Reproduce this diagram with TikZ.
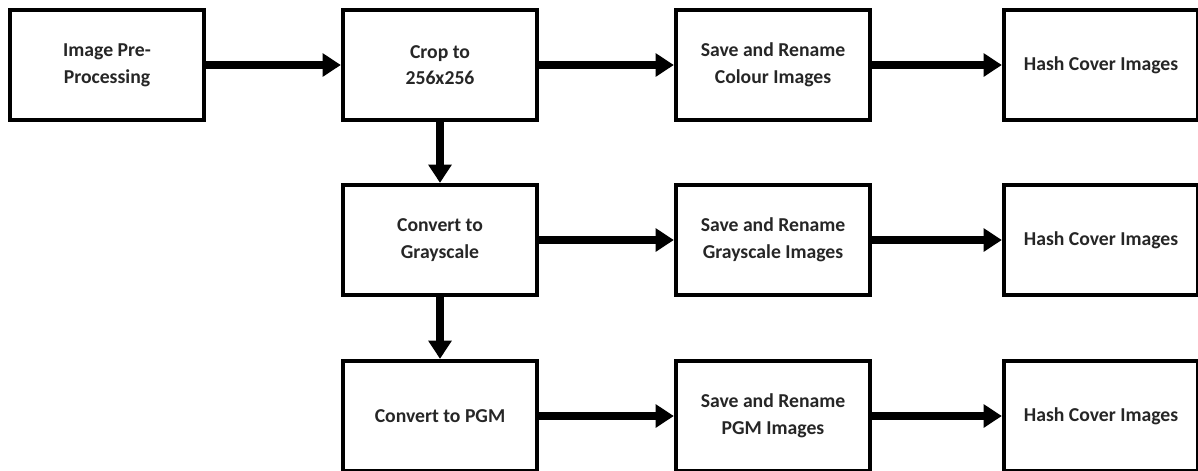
\documentclass[tikz,border=0pt]{standalone}
\usepackage{fontspec}
\setmainfont{Carlito}
\usetikzlibrary{arrows.meta}

\begin{document}
\begin{tikzpicture}[x=0.025cm, y=-0.025cm,
    stage/.style={draw, line width=3pt, minimum width=4.85cm, minimum height=2.75cm,
      align=center, font=\fontsize{14}{19}\selectfont\bfseries, text=black!85},
    flow/.style={line width=5.5pt, -{Triangle[length=13pt, width=16pt]}}]
  \useasboundingbox (0,0) rectangle (1198,470);
  % first row
  \node[stage] (pre)   at (107, 65)  {Image Pre-\\Processing};
  \node[stage] (crop)  at (440, 65)  {Crop to\\256x256};
  \node[stage] (savec) at (773, 65)  {Save and Rename\\Colour Images};
  \node[stage] (hashc) at (1101, 65) {Hash Cover Images};
  % second row
  \node[stage] (gray)  at (440, 240)  {Convert to\\Grayscale};
  \node[stage] (saveg) at (773, 240)  {Save and Rename\\Grayscale Images};
  \node[stage] (hashg) at (1101, 240) {Hash Cover Images};
  % third row
  \node[stage] (pgm)   at (440, 416)  {Convert to PGM};
  \node[stage] (savep) at (773, 416)  {Save and Rename\\PGM Images};
  \node[stage] (hashp) at (1101, 416) {Hash Cover Images};
  % arrows
  \draw[flow] (pre) -- (crop);
  \draw[flow] (crop) -- (savec);
  \draw[flow] (savec) -- (hashc);
  \draw[flow] (crop) -- (gray);
  \draw[flow] (gray) -- (saveg);
  \draw[flow] (saveg) -- (hashg);
  \draw[flow] (gray) -- (pgm);
  \draw[flow] (pgm) -- (savep);
  \draw[flow] (savep) -- (hashp);
\end{tikzpicture}
\end{document}
